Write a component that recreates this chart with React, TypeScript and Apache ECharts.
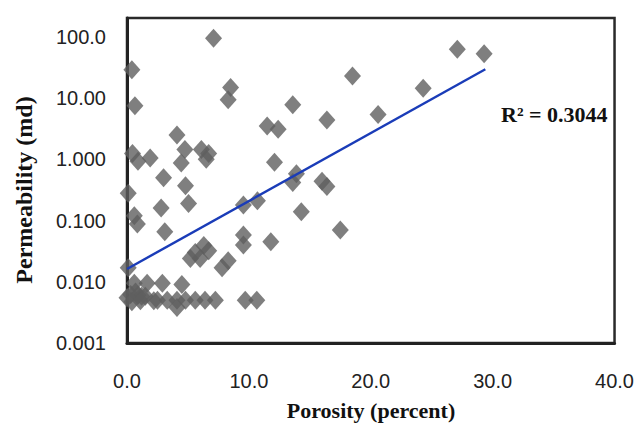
import React, { useEffect, useRef } from "react";
import * as echarts from "echarts";

// Porosity (percent)
const porosity: number[] = [
  7.1, 0.4, 0.65, 8.5, 8.3, 13.6, 11.5, 12.4, 4.1, 0.45,
  0.9, 1.9, 4.75, 4.45, 6.1, 6.7, 6.5, 3.0, 4.8, 0.1,
  5.05, 2.8, 0.6, 0.85, 3.1, 12.1, 13.9, 13.6, 16.0, 16.4,
  14.3, 17.5, 9.55, 10.7, 9.55, 9.55, 11.8, 6.3, 6.7, 5.6,
  5.2, 6.0, 8.3, 7.8, 0.1, 18.5, 24.3, 16.4, 20.6, 27.1,
  29.3, 0.6, 1.65, 2.9, 4.5, 0.0, 0.3, 0.7, 0.9, 1.2,
  0.4, 1.1, 1.5, 2.2, 2.5, 3.3, 4.1, 4.8, 5.6, 6.4,
  7.25, 9.7, 10.65, 4.1,
];

// Permeability (md)
const permeability: number[] = [
  95, 29, 7.5, 15, 9.4, 7.8, 3.5, 3.1, 2.5, 1.25,
  0.93, 1.05, 1.45, 0.87, 1.45, 1.25, 1.0, 0.5, 0.37, 0.28,
  0.19, 0.16, 0.12, 0.088, 0.066, 0.9, 0.58, 0.42, 0.44, 0.36,
  0.14, 0.07, 0.18, 0.21, 0.058, 0.04, 0.045, 0.039, 0.032, 0.03,
  0.024, 0.024, 0.022, 0.017, 0.017, 23, 14.5, 4.4, 5.4, 63,
  53, 0.0095, 0.0095, 0.0095, 0.009, 0.0055, 0.0062, 0.0068, 0.006, 0.0058,
  0.0047, 0.0049, 0.0058, 0.0049, 0.005, 0.005, 0.005, 0.005, 0.005, 0.005,
  0.005, 0.005, 0.005, 0.0038,
];

// Exponential trend line end points
const trendX: number[] = [0, 29.4];
const trendY: number[] = [0.0162, 29.6];

const rSquaredLabel = "R² = 0.3044";
const xTitle = "Porosity (percent)";
const yTitle = "Permeability (md)";

const yTickValues: number[] = [0.001, 0.01, 0.1, 1, 10, 100];
const yTickLabels: string[] = ["0.001", "0.010", "0.100", "1.000", "10.00", "100.0"];
const xTickValues: number[] = [0, 10, 20, 30, 40];
const xTickLabels: string[] = ["0.0", "10.0", "20.0", "30.0", "40.0"];

export default function App() {
  const ref = useRef<HTMLDivElement>(null);

  useEffect(() => {
    if (!ref.current) return;
    const chart = echarts.init(ref.current, undefined, { renderer: "svg" });
    const points = porosity.map((x, i) => [x, permeability[i]]);
    const trend = trendX.map((x, i) => [x, trendY[i]]);
    const tickFont = "'Liberation Sans', Arial, sans-serif";
    const titleFont = "'Liberation Serif', 'Times New Roman', serif";

    chart.setOption({
      animation: false,
      backgroundColor: "#ffffff",
      grid: {
        left: 127,
        right: 21,
        top: 18,
        bottom: 90,
        show: true,
        borderColor: "#2a2a2a",
        borderWidth: 2.5,
        backgroundColor: "#ffffff",
      },
      xAxis: {
        type: "value",
        min: 0,
        max: 40,
        interval: 10,
        splitLine: { show: false },
        axisTick: { show: false },
        axisLine: { show: true, lineStyle: { color: "#222", width: 3 } },
        axisLabel: {
          margin: 28,
          fontSize: 20,
          color: "#222",
          fontFamily: tickFont,
          formatter: (v: number) => {
            const i = xTickValues.indexOf(v);
            return i >= 0 ? xTickLabels[i] : "";
          },
        },
      },
      yAxis: {
        type: "log",
        logBase: 10,
        min: 0.001,
        max: 204,
        splitLine: { show: false },
        axisTick: { show: false },
        axisLine: { show: true, lineStyle: { color: "#222", width: 3 } },
        axisLabel: {
          margin: 21,
          fontSize: 20,
          color: "#222",
          fontFamily: tickFont,
          formatter: (v: number) => {
            const lg = Math.log10(v);
            const r = Math.round(lg);
            if (Math.abs(lg - r) > 0.01) return "";
            const i = yTickValues.findIndex((t) => Math.abs(Math.log10(t) - r) < 0.01);
            return i >= 0 ? yTickLabels[i] : "";
          },
        },
      },
      series: [
        {
          type: "scatter",
          data: points,
          symbol: "diamond",
          symbolSize: [17, 19],
          itemStyle: { color: "#5f5f5f" },
          z: 2,
        },
        {
          type: "line",
          data: trend,
          symbol: "none",
          lineStyle: { color: "#1a3cb8", width: 2.4 },
          z: 3,
        },
      ],
      graphic: [
        {
          type: "text",
          x: 501,
          y: 114,
          style: {
            text: rSquaredLabel,
            font: `bold 22px ${titleFont}`,
            fill: "#111",
            textAlign: "left",
            textVerticalAlign: "middle",
          },
          z: 10,
        },
        {
          type: "text",
          x: 371,
          y: 410,
          style: {
            text: xTitle,
            font: `bold 22px ${titleFont}`,
            fill: "#111",
            textAlign: "center",
            textVerticalAlign: "middle",
          },
        },
        {
          type: "text",
          x: 24,
          y: 190,
          rotation: Math.PI / 2,
          style: {
            text: yTitle,
            font: `bold 24px ${titleFont}`,
            fill: "#111",
            textAlign: "center",
            textVerticalAlign: "middle",
          },
        },
      ],
    });

    return () => chart.dispose();
  }, []);

  return (
    <div
      ref={ref}
      style={{ position: "fixed", left: 0, top: 0, width: 637, height: 433, background: "#fff" }}
    />
  );
}
